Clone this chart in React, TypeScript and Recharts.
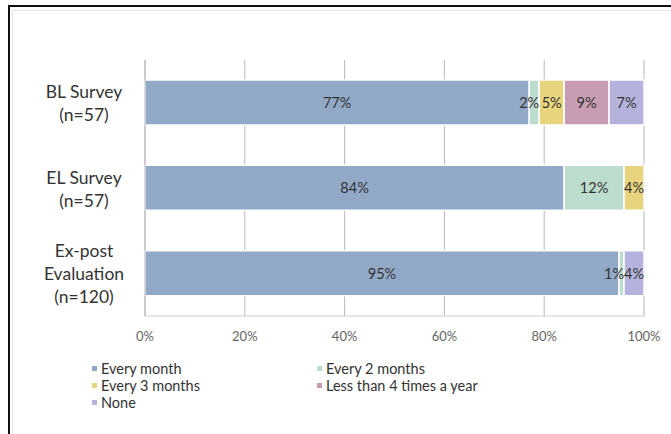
import { BarChart, Bar, XAxis, YAxis, CartesianGrid, LabelList } from 'recharts';

const groups = ['BL Survey\n(n=57)', 'EL Survey\n(n=57)', 'Ex-post\nEvaluation\n(n=120)'];
const everyMonth = [77, 84, 95];
const every2Months = [2, 12, 1];
const every3Months = [5, 4, 0];
const lessThan4 = [9, 0, 0];
const none = [7, 0, 4];
const xTicks = [0, 20, 40, 60, 80, 100];

const series = [
  { key: 'm1', name: 'Every month', color: '#91a8c7', values: everyMonth },
  { key: 'm2', name: 'Every 2 months', color: '#bcdccd', values: every2Months },
  { key: 'm3', name: 'Every 3 months', color: '#e9d47e', values: every3Months },
  { key: 'lt4', name: 'Less than 4 times a year', color: '#c89db3', values: lessThan4 },
  { key: 'none', name: 'None', color: '#b5b2dd', values: none },
];

const data = groups.map((g, i) => {
  const row: any = { group: g };
  series.forEach((s) => (row[s.key] = s.values[i]));
  return row;
});

const FONT = 'Lato, "Open Sans", sans-serif';

const GroupTick = ({ y, payload }: any) => {
  const lines = String(payload.value).split('\n');
  const lh = 23;
  const start = y - ((lines.length - 1) * lh) / 2;
  return (
    <text x={84} y={start} textAnchor="middle" dominantBaseline="central" fill="#333" fontSize={17.5} fontFamily={FONT}>
      {lines.map((l, i) => (
        <tspan key={i} x={84} y={start + i * lh}>
          {l}
        </tspan>
      ))}
    </text>
  );
};

// tiny segments get their label pushed to the right edge so neighbours don't collide
const SegLabel = ({ x, y, width, height, value }: any) => {
  if (!value) return null;
  const narrow = value <= 2;
  return (
    <text
      x={narrow ? x + width : x + width / 2}
      y={y + height / 2}
      textAnchor={narrow ? 'end' : 'middle'}
      dominantBaseline="central"
      fill="#333"
      fontSize={14.5}
      fontFamily={FONT}
    >
      {`${value}%`}
    </text>
  );
};

export default function App() {
  return (
    <div style={{ position: 'absolute', left: 0, top: 0, width: 671, height: 434, background: '#fff', overflow: 'hidden' }}>
      <div style={{ position: 'absolute', left: 8, top: 5, right: -10, bottom: -10, borderTop: '2px solid #111', borderLeft: '2px solid #111' }} />
      <div style={{ position: 'absolute', left: 12, top: 10, right: -10, bottom: -10, borderTop: '1px solid #e4e4e4', borderLeft: '1px solid #e4e4e4' }} />
      <div style={{ position: 'absolute', left: 0, top: 0 }}>
        <BarChart
          width={671}
          height={434}
          data={data}
          layout="vertical"
          barSize={45}
          margin={{ top: 60, right: 27, bottom: 88, left: 0 }}
        >
          <CartesianGrid vertical horizontal={false} stroke="#b8b8b8" />
          <XAxis
            type="number"
            domain={[0, 100]}
            ticks={xTicks}
            tickFormatter={(v) => `${v}%`}
            height={30}
            axisLine={{ stroke: '#d0d0d0' }}
            tickLine={false}
            tick={{ fill: '#666', fontSize: 13, fontFamily: FONT }}
            tickMargin={10}
          />
          <YAxis
            type="category"
            dataKey="group"
            width={145}
            axisLine={{ stroke: '#b8b8b8' }}
            tickLine={false}
            tick={<GroupTick />}
          />
          {series.map((s) => (
            <Bar key={s.key} dataKey={s.key} name={s.name} stackId="a" fill={s.color} stroke="#fff" strokeWidth={1.5} isAnimationActive={false}>
              <LabelList dataKey={s.key} content={<SegLabel />} />
            </Bar>
          ))}
        </BarChart>
      </div>
      {series.map((s, i) => (
        <div
          key={s.key}
          style={{
            position: 'absolute',
            left: i % 2 === 0 ? 92 : 317,
            top: 360 + Math.floor(i / 2) * 17,
            display: 'flex',
            alignItems: 'center',
            fontFamily: FONT,
            fontSize: 14.5,
            color: '#333',
            whiteSpace: 'nowrap',
          }}
        >
          <span style={{ display: 'inline-block', width: 5, height: 5, background: s.color, marginRight: 4 }} />
          {s.name}
        </div>
      ))}
    </div>
  );
}
